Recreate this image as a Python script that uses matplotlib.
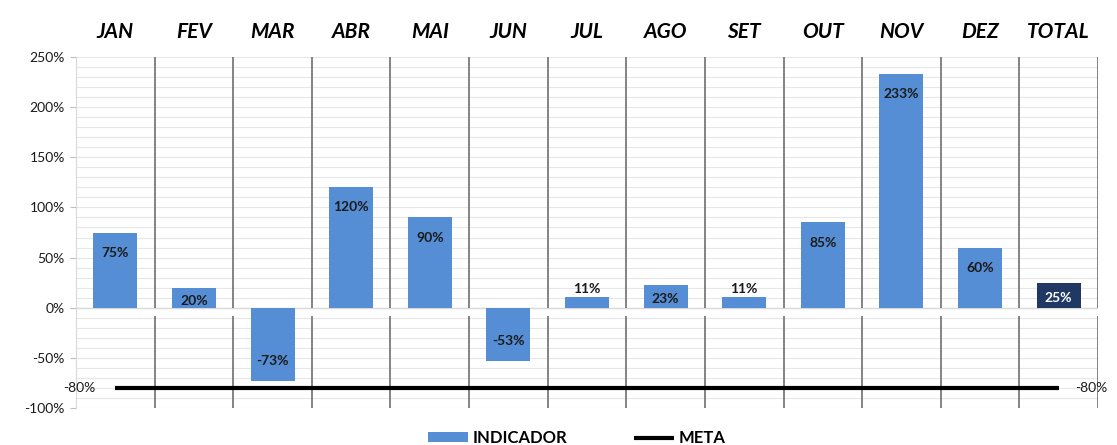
import matplotlib.pyplot as plt
import numpy as np

# --- data ---
MONTHS = ["JAN", "FEV", "MAR", "ABR", "MAI", "JUN", "JUL", "AGO", "SET", "OUT", "NOV", "DEZ", "TOTAL"]
INDICADOR = [75, 20, -73, 120, 90, -53, 11, 23, 11, 85, 233, 60, 25]
META = -80

BLUE = "#558ED5"
NAVY = "#1F3864"

plt.rcParams["font.family"] = ["Lato", "DejaVu Sans"]

fig = plt.figure(figsize=(11.17, 4.45), dpi=100)
ax = fig.add_axes([76 / 1117, 37 / 445, 1022 / 1117, 351 / 445])

x = np.arange(len(MONTHS))
colors = [BLUE] * (len(MONTHS) - 1) + [NAVY]
bars = ax.bar(x, INDICADOR, width=0.56, color=colors, zorder=3, label="INDICADOR")

# light horizontal grid every 10%
for g in range(-100, 251, 10):
    ax.axhline(g, color="#E6E6E6", lw=0.8, zorder=1)
ax.axhline(0, color="#D9D9D9", lw=1.0, zorder=1)

# dark category separators (broken just under zero)
for b in np.arange(0.5, len(MONTHS), 1.0):
    ax.vlines(b, 0, 250, color="#7A7A7A", lw=1.3, zorder=2)
    ax.vlines(b, -100, -8, color="#7A7A7A", lw=1.3, zorder=2)

# meta line
meta_line, = ax.plot([x[0], x[-1]], [META, META], color="black", lw=3, zorder=4,
                     label="META", solid_capstyle="butt")
ax.annotate(f"{META}%", (x[0], META), xytext=(-14, 0), textcoords="offset points",
            ha="right", va="center", fontsize=10, color="#1a1a1a")
ax.annotate(f"{META}%", (x[-1], META), xytext=(12, 0), textcoords="offset points",
            ha="left", va="center", fontsize=10, color="#1a1a1a")

# value labels
for i, v in enumerate(INDICADOR):
    if abs(v) >= 40:
        y = v - 20 * np.sign(v)
    elif v < 15:
        y = v + 8
    else:
        y = v / 2 - 3
    col = "white" if i == len(INDICADOR) - 1 else "#1a1a1a"
    ax.text(i, y, f"{v}%", ha="center", va="center", fontsize=10,
            fontweight="bold", color=col, zorder=5)

ax.set_xlim(-0.5, len(MONTHS) - 0.5)
ax.set_ylim(-100, 250)
ax.set_yticks(range(-100, 251, 50))
ax.set_yticklabels([f"{t}%" for t in range(-100, 251, 50)], fontsize=10, color="#1a1a1a")
ax.tick_params(axis="y", length=4, color="#BFBFBF", pad=4)

ax.xaxis.tick_top()
ax.set_xticks(x)
ax.set_xticklabels(MONTHS, fontsize=15, fontweight="bold", fontstyle="italic")
ax.tick_params(axis="x", length=0, pad=11)

for s in ["top", "right", "bottom"]:
    ax.spines[s].set_visible(False)
ax.spines["left"].set_color("#D9D9D9")

ax.legend([bars, meta_line], ["INDICADOR", "META"], loc="center",
          bbox_to_anchor=(0.49, -0.085), ncol=2, frameon=False,
          handlelength=2.4, handleheight=0.5, columnspacing=4.0, handletextpad=0.3,
          prop={"weight": "bold", "size": 12})

fig.savefig("out.png", dpi=100)
